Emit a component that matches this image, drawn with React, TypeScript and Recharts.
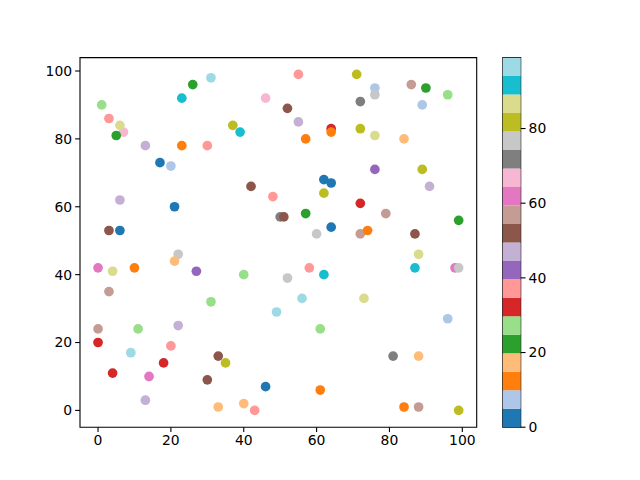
import React from "react";
import {
  Bar,
  BarChart,
  ReferenceArea,
  Scatter,
  ScatterChart,
  XAxis,
  YAxis,
} from "recharts";

// Scatter of 100 random points coloured through tab20, with a matching colorbar on the right.

const xs = [
  1, 3, 7, 6, 5, 13, 23, 30, 26, 31, 23, 46, 37, 39, 17, 20, 42, 48, 6, 21, 3, 6, 50, 51,
  55, 71, 76, 76, 86, 90, 96, 52, 72, 89, 55, 64, 64, 72, 76, 57, 84, 76, 89, 62, 64, 91, 62, 72, 79, 57, 99, 64, 72, 74, 60, 87,
  22, 21, 0, 4, 10, 27, 40, 3, 31, 49, 0, 11, 22, 0, 9, 20, 33, 35, 18, 4, 14, 30, 46, 13, 33, 40, 43,
  88, 87, 98, 99, 58, 62, 52, 56, 73, 96, 61, 81, 88, 61, 84, 88, 99,
];
const ys = [
  90, 86, 82, 84, 81, 78, 78, 78, 96, 98, 92, 92, 84, 82, 73, 72, 66, 63, 62, 60, 53, 53, 57, 57,
  99, 99, 95, 93, 96, 95, 93, 89, 91, 90, 85, 83, 82, 83, 81, 80, 80, 71, 71, 68, 67, 66, 64, 61, 58, 58, 56, 54, 52, 53, 52, 52,
  46, 44, 42, 41, 42, 41, 40, 35, 32, 29, 24, 24, 25, 20, 17, 19, 16, 14, 14, 11, 10, 9, 7, 3, 1, 2, 0,
  46, 42, 42, 42, 42, 40, 39, 33, 33, 27, 24, 16, 16, 6, 1, 1, 0,
];
const cs = [
  27, 37, 67, 87, 22, 47, 12, 37, 22, 97, 92, 67, 82, 92, 2, 7, 52, 37, 47, 2, 52, 2, 72, 52,
  37, 82, 7, 77, 57, 22, 27, 52, 72, 7, 47, 32, 12, 82, 87, 12, 17, 42, 82, 2, 2, 47, 82, 32, 57, 22, 22, 2, 57, 12, 77, 52,
  77, 17, 62, 87, 12, 42, 27, 57, 27, 97, 57, 27, 47, 32, 97, 37, 52, 82, 32, 32, 62, 52, 2, 47, 17, 17, 37,
  87, 92, 62, 77, 37, 92, 77, 97, 87, 7, 27, 72, 17, 12, 12, 57, 82,
];
const axisTicks = [0, 20, 40, 60, 80, 100];
const cbTicks = [0, 20, 40, 60, 80];
const C_MIN = 0;
const C_MAX = 99;

const TAB20 = [
  "#1f77b4", "#aec7e8", "#ff7f0e", "#ffbb78", "#2ca02c", "#98df8a", "#d62728", "#ff9896",
  "#9467bd", "#c5b0d5", "#8c564b", "#c49c94", "#e377c2", "#f7b6d2", "#7f7f7f", "#c7c7c7",
  "#bcbd22", "#dbdb8d", "#17becf", "#9edae5",
];

const colorFor = (c: number) => {
  const t = (c - C_MIN) / (C_MAX - C_MIN);
  const i = Math.min(TAB20.length - 1, Math.max(0, Math.floor(t * TAB20.length)));
  return TAB20[i];
};

const points = xs.map((x, i) => ({ x, y: ys[i], c: cs[i] }));

const cbRow: Record<string, number | string> = { name: "cb" };
TAB20.forEach((_, i) => {
  cbRow[`s${i}`] = (C_MAX - C_MIN) / TAB20.length;
});
const cbData = [cbRow];

const FONT = "'DejaVu Sans', sans-serif";
const tickStyle = { fill: "#000", fontSize: 13.9, fontFamily: FONT };
const TICK = 4.86;
const LIM: [number, number] = [-4.95, 103.95];

const Dot = (p: any) => (
  <circle cx={p.cx} cy={p.cy} r={4.85} fill={colorFor(p.payload ? p.payload.c : p.c)} />
);

export default function App() {
  return (
    <div style={{ position: "absolute", left: 0, top: 0, width: 640, height: 480, background: "#fff" }}>
      <div style={{ position: "absolute", left: 0, top: 0 }}>
        <ScatterChart width={640} height={480} margin={{ top: 57.6, right: 163.3, bottom: 22.8, left: 40 }}>
          <XAxis
            type="number"
            dataKey="x"
            domain={LIM}
            ticks={axisTicks}
            allowDataOverflow
            height={30}
            axisLine={false}
            tickSize={TICK}
            tickMargin={3}
            tickLine={{ stroke: "#000", strokeWidth: 1.1 }}
            tick={tickStyle}
            interval={0}
          />
          <YAxis
            type="number"
            dataKey="y"
            domain={LIM}
            ticks={axisTicks}
            allowDataOverflow
            width={40}
            axisLine={false}
            tickSize={TICK}
            tickMargin={3}
            tickLine={{ stroke: "#000", strokeWidth: 1.1 }}
            tick={tickStyle}
            interval={0}
          />
          <Scatter data={points} shape={Dot} isAnimationActive={false} />
          <ReferenceArea
            x1={LIM[0]}
            x2={LIM[1]}
            y1={LIM[0]}
            y2={LIM[1]}
            fill="none"
            fillOpacity={0}
            stroke="#000"
            strokeWidth={1.1}
            strokeOpacity={1}
          />
        </ScatterChart>
      </div>
      <div style={{ position: "absolute", left: 490, top: 0 }}>
        <BarChart
          width={80}
          height={480}
          data={cbData}
          margin={{ top: 57.6, right: 0, bottom: 52.8, left: 12.7 }}
          barCategoryGap={0}
          barGap={0}
        >
          <XAxis dataKey="name" hide />
          <YAxis
            orientation="right"
            type="number"
            domain={[C_MIN, C_MAX]}
            ticks={cbTicks}
            allowDataOverflow
            width={49.3}
            axisLine={false}
            tickSize={TICK}
            tickMargin={3}
            tickLine={{ stroke: "#000", strokeWidth: 1.1 }}
            tick={{ ...tickStyle, textAnchor: "start" }}
            interval={0}
          />
          {TAB20.map((col, i) => (
            <Bar key={i} dataKey={`s${i}`} stackId="cb" fill={col} isAnimationActive={false} />
          ))}
          <ReferenceArea
            y1={C_MIN}
            y2={C_MAX}
            fill="none"
            fillOpacity={0}
            stroke="#000"
            strokeWidth={1.1}
            strokeOpacity={1}
          />
        </BarChart>
      </div>
    </div>
  );
}
